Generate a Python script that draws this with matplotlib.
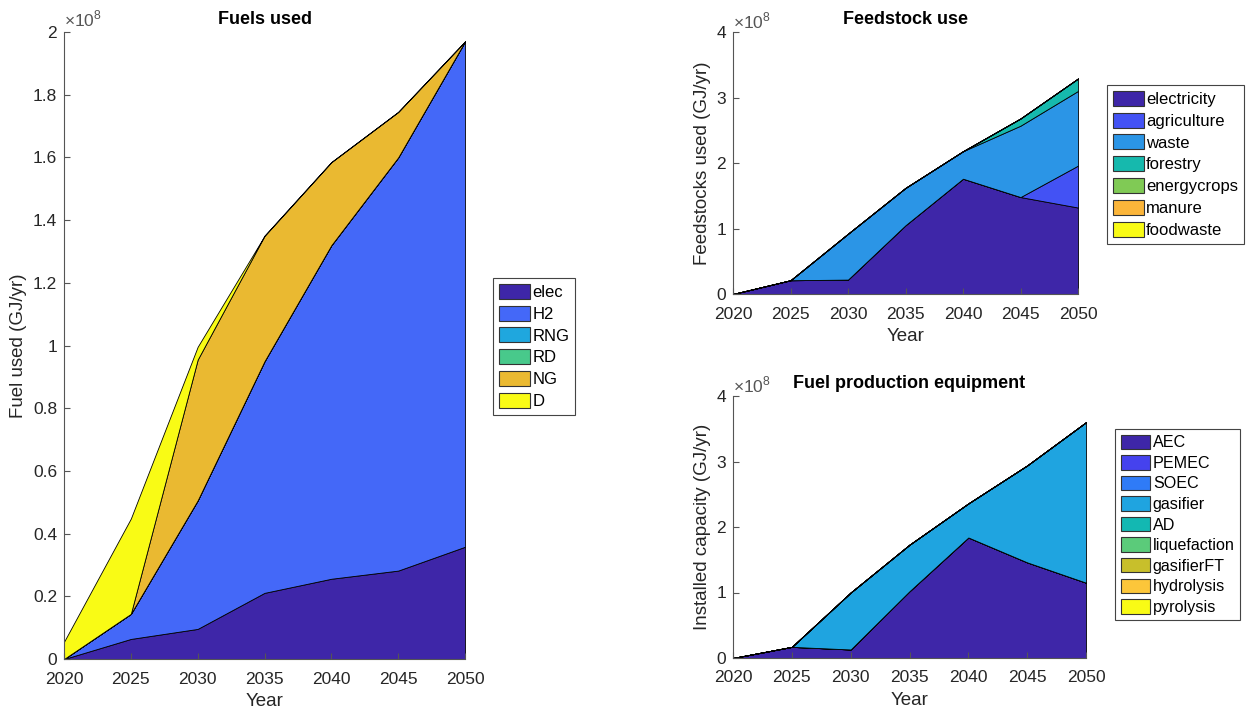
import numpy as np
import matplotlib
matplotlib.use("Agg")
import matplotlib.pyplot as plt
from matplotlib.ticker import FuncFormatter, MultipleLocator

plt.rcParams['font.family'] = ['Liberation Sans', 'DejaVu Sans']
plt.rcParams['mathtext.fontset'] = 'custom'
plt.rcParams['mathtext.rm'] = 'Liberation Sans'

years = [2020, 2025, 2030, 2035, 2040, 2045, 2050]
scale = 1e8  # values below are in 1e8 GJ/yr

# Fuels used
fuel_names = ["elec", "H2", "RNG", "RD", "NG", "D"]
fuel_elec = [0.0, 0.064, 0.096, 0.211, 0.256, 0.282, 0.358]
fuel_h2 = [0.0, 0.080, 0.410, 0.739, 1.064, 1.318, 1.612]
fuel_rng = [0, 0, 0, 0, 0, 0, 0]
fuel_rd = [0, 0, 0, 0, 0, 0, 0]
fuel_ng = [0.0, 0.0, 0.449, 0.400, 0.265, 0.145, 0.0]
fuel_d = [0.055, 0.304, 0.041, 0.0, 0.0, 0.0, 0.0]
fuel_colors = ["#3e26a8", "#4468f8", "#1fa7de", "#48c98b", "#eab931", "#f9fb15"]

# Feedstock use
feed_names = ["electricity", "agriculture", "waste", "forestry", "energycrops", "manure", "foodwaste"]
feed_electricity = [0.0, 0.21, 0.22, 1.05, 1.76, 1.48, 1.32]
feed_agriculture = [0, 0, 0, 0, 0, 0, 0.64]
feed_waste = [0.0, 0.0, 0.70, 0.57, 0.42, 1.09, 1.14]
feed_forestry = [0, 0, 0, 0, 0, 0.11, 0.19]
feed_energycrops = [0, 0, 0, 0, 0, 0, 0]
feed_manure = [0, 0, 0, 0, 0, 0, 0]
feed_foodwaste = [0, 0, 0, 0, 0, 0, 0]
feed_colors = ["#3e26a8", "#4352f4", "#2b95e6", "#16b9ad", "#80ca55", "#fbb53a", "#f9fb15"]

# Fuel production equipment
equip_names = ["AEC", "PEMEC", "SOEC", "gasifier", "AD", "liquefaction", "gasifierFT", "hydrolysis", "pyrolysis"]
equip_aec = [0.0, 0.17, 0.13, 1.02, 1.84, 1.46, 1.15]
equip_pemec = [0, 0, 0, 0, 0, 0, 0]
equip_soec = [0, 0, 0, 0, 0, 0, 0]
equip_gasifier = [0.0, 0.0, 0.87, 0.71, 0.52, 1.48, 2.45]
equip_ad = [0, 0, 0, 0, 0, 0, 0]
equip_liquefaction = [0, 0, 0, 0, 0, 0, 0]
equip_gasifierft = [0, 0, 0, 0, 0, 0, 0]
equip_hydrolysis = [0, 0, 0, 0, 0, 0, 0]
equip_pyrolysis = [0, 0, 0, 0, 0, 0, 0]
equip_colors = ["#3e26a8", "#4542ee", "#2f7bf7", "#1fa4e0", "#13b8b2", "#5bcb7a", "#c8bf2b", "#fcc63a", "#f9fb15"]

W, H = 1246, 713
fig = plt.figure(figsize=(W / 100, H / 100), dpi=100)

def px_axes(x0, x1, ytop, ybot):
    return fig.add_axes([x0 / W, (H - ybot) / H, (x1 - x0) / W, (ybot - ytop) / H])

ax_fuel = px_axes(64, 465, 32, 659)
ax_feed = px_axes(733, 1078, 32, 294)
ax_equip = px_axes(733, 1086, 396, 658)

axis_col = "#262626"

def area_plot(ax, series, names, colors, ymax, ystep, ylabel, title, leg_xy,
              leg_size=12, leg_space=0.34):
    data = [np.array(s, dtype=float) * scale for s in series]
    polys = ax.stackplot(years, *data, colors=colors, labels=names,
                         edgecolor="k", linewidth=0.6)
    ax.set_xlim(2020, 2050)
    ax.set_ylim(0, ymax * scale)
    ax.xaxis.set_major_locator(MultipleLocator(5))
    ax.yaxis.set_major_locator(MultipleLocator(ystep * scale))
    ax.yaxis.set_major_formatter(FuncFormatter(lambda v, p: f"{round(v / scale, 6):g}"))
    for side in ["top", "right"]:
        ax.spines[side].set_visible(False)
    for side in ["left", "bottom"]:
        ax.spines[side].set_color("#555555")
        ax.spines[side].set_linewidth(0.8)
    ax.tick_params(direction="in", length=4, width=0.8, color="#555555",
                   labelcolor=axis_col, labelsize=12.5)
    ax.tick_params(axis="x", pad=9)
    ax.tick_params(axis="y", pad=5)
    ax.set_xlabel("Year", fontsize=13.5, color=axis_col, labelpad=5)
    ax.set_ylabel(ylabel, fontsize=13.5, color=axis_col, labelpad=4)
    ax.set_title(title, fontsize=13, fontweight="bold", pad=6)
    ax.text(0.0, 1.004, r"$\times10^{8}$", transform=ax.transAxes, ha="left",
            va="bottom", fontsize=12.5, color="#555555")
    leg = ax.legend(handles=polys, loc="upper left",
                    bbox_to_anchor=(leg_xy[0] / W, 1 - leg_xy[1] / H),
                    bbox_transform=fig.transFigure, borderaxespad=0,
                    fontsize=leg_size, fancybox=False, edgecolor="#444444",
                    handlelength=1.85, handleheight=1.0, handletextpad=0.15,
                    labelspacing=leg_space, borderpad=0.35, framealpha=1)
    leg.get_frame().set_linewidth(0.8)
    for h in leg.legend_handles:
        h.set_edgecolor("#333333")
        h.set_linewidth(0.8)

area_plot(ax_fuel,
          [fuel_elec, fuel_h2, fuel_rng, fuel_rd, fuel_ng, fuel_d],
          fuel_names, fuel_colors, 2.0, 0.2, "Fuel used (GJ/yr)", "Fuels used",
          (493, 278))
area_plot(ax_feed,
          [feed_electricity, feed_agriculture, feed_waste, feed_forestry,
           feed_energycrops, feed_manure, feed_foodwaste],
          feed_names, feed_colors, 4.0, 1.0, "Feedstocks used (GJ/yr)", "Feedstock use",
          (1107, 85))
area_plot(ax_equip,
          [equip_aec, equip_pemec, equip_soec, equip_gasifier, equip_ad,
           equip_liquefaction, equip_gasifierft, equip_hydrolysis, equip_pyrolysis],
          equip_names, equip_colors, 4.0, 1.0, "Installed capacity (GJ/yr)",
          "Fuel production equipment", (1115, 429), leg_size=11.6, leg_space=0.3)

fig.savefig("out.png", dpi=100)
